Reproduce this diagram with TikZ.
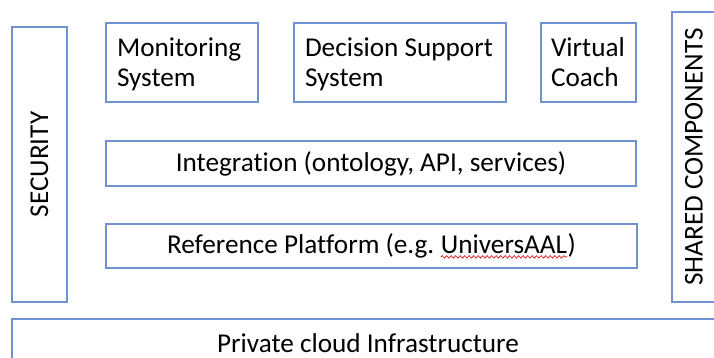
\documentclass[tikz,border=0pt]{standalone}
\usepackage{fontspec}
\setmainfont{Carlito}[Ligatures=NoCommon]
\usetikzlibrary{positioning, decorations.pathmorphing}

\definecolor{boxline}{RGB}{112,146,208}
\definecolor{squiggle}{RGB}{220,40,40}

% Same line heights in every tile
\newcommand\tilestrut{\rule[-6pt]{0pt}{30.5pt}}

% Spell-check wave under a word
\newcommand\redwave[1]{\tikz[baseline=(word.base)]{\node [draw=none, inner sep=0pt, minimum width=0pt, minimum height=0pt] (word) {#1};
	\draw [squiggle, line width=0.8pt, decorate, decoration={snake, amplitude=1.2pt, segment length=4.5pt}] ([yshift=-3.5pt]word.base west) -- ([yshift=-3.5pt]word.base east);}}

\begin{document}
\begin{tikzpicture}[x=1pt, y=-1pt,
	font=\fontsize{27.2}{30.5}\selectfont,
	layer/.style={draw=boxline, line width=1.5pt, inner sep=0pt, align=center},
	tile/.style={layer, inner xsep=11pt, align=flush left, minimum height=79pt}]

	% Page
	
	\useasboundingbox (0, 0) rectangle (714, 358);
	\clip (0, 0) rectangle (714, 358);
	
	% Side columns
	
	\node [layer, rotate=90, minimum width=275pt, minimum height=55pt] (security) at (39.5, 164.5) {SECURITY};
	\node [layer, rotate=90, minimum width=290pt, minimum height=44pt] (shared) at (694, 157) {SHARED COMPONENTS};
	
	% Applications
	
	\node [tile, text width=130pt] (monitoring) at (182, 62.5) {\tilestrut Monitoring\\System\tilestrut};
	\node [tile, text width=190pt] (decision) at (400, 62.5) {\tilestrut Decision Support\\System\tilestrut};
	\node [tile, text width=75pt, inner xsep=10pt] (coach) at (588.5, 62.5) {\tilestrut Virtual\\Coach\tilestrut};
	
	% Middle layers
	
	\node [layer, minimum width=530pt, minimum height=45pt] (integration) at (371, 163.5) {Integration (ontology, API, services)};
	\node [layer, minimum width=531pt, minimum height=44pt] (platform) at (371.5, 246) {Reference Platform (e.g.~\redwave{UniversAAL})};
	
	% Cloud
	
	\node [layer, minimum width=712pt, minimum height=49pt] (cloud) at (368, 343.5) {Private cloud Infrastructure};

\end{tikzpicture}
\end{document}
